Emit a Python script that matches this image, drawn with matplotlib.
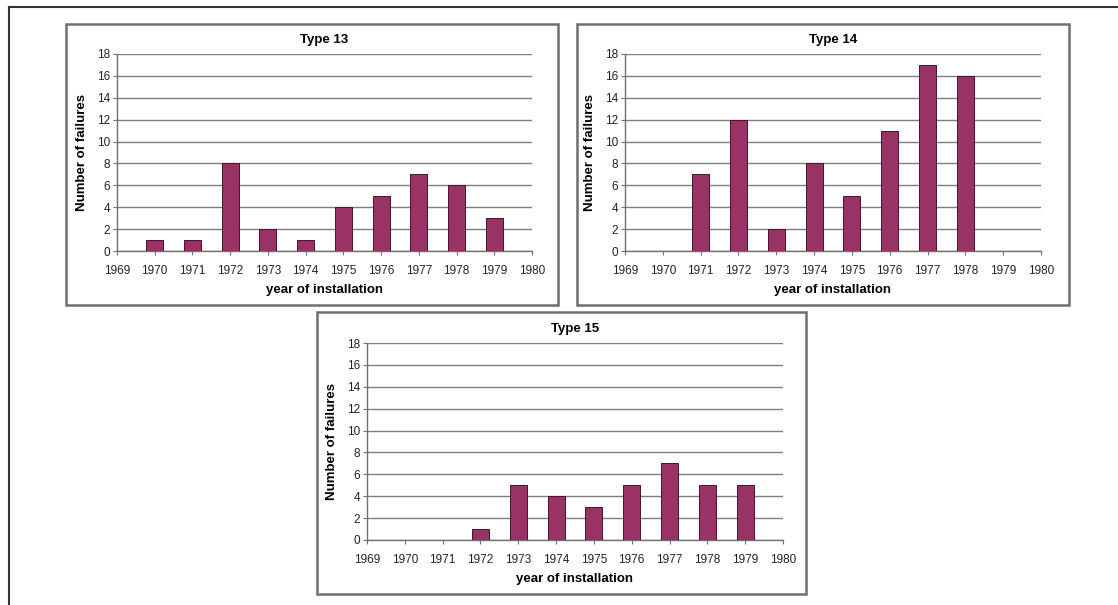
import matplotlib
matplotlib.use("Agg")
import matplotlib.pyplot as plt
from matplotlib.patches import Rectangle
from matplotlib.lines import Line2D

plt.rcParams['font.family'] = ['Liberation Sans', 'DejaVu Sans']

W, H = 1118, 605

# data
years13 = [1970, 1971, 1972, 1973, 1974, 1975, 1976, 1977, 1978, 1979]
fail13 = [1, 1, 8, 2, 1, 4, 5, 7, 6, 3]
years14 = [1971, 1972, 1973, 1974, 1975, 1976, 1977, 1978]
fail14 = [7, 12, 2, 8, 5, 11, 17, 16]
years15 = [1972, 1973, 1974, 1975, 1976, 1977, 1978, 1979]
fail15 = [1, 5, 4, 3, 5, 7, 5, 5]
titles = ["Type 13", "Type 14", "Type 15"]
xticks = list(range(1969, 1981))
yticks = list(range(0, 19, 2))

# pixel boxes: (panel frame, plot area) as left, top, right, bottom
panels = [
    ((66, 24, 558, 305), (117, 54, 532, 251)),
    ((577, 24, 1069, 305), (625, 54, 1041, 251)),
    ((317, 312, 806, 594), (367, 343, 783, 540)),
]

fig = plt.figure(figsize=(W / 100, H / 100), dpi=100)
fig.patch.set_facecolor('white')

# outer frame (top and left only)
fig.add_artist(Line2D([9 / W, 1], [1 - 7 / H, 1 - 7 / H], color='#333333', lw=1.5))
fig.add_artist(Line2D([9 / W, 9 / W], [0, 1 - 7 / H], color='#333333', lw=1.5))

def px_rect(l, t, r, b):
    return [l / W, 1 - b / H, (r - l) / W, (b - t) / H]

data = [(years13, fail13), (years14, fail14), (years15, fail15)]

for (frame, area), (yrs, vals), title in zip(panels, data, titles):
    l, t, r, b = frame
    fig.add_artist(Rectangle((l / W, 1 - b / H), (r - l) / W, (b - t) / H,
                             fill=False, edgecolor='#6e6e6e', lw=1.8))
    ax = fig.add_axes(px_rect(*area))
    ax.bar(yrs, vals, width=0.45, color='#993366', edgecolor='#4a1030', lw=0.7, zorder=3)
    ax.set_xlim(1969, 1980)
    ax.set_ylim(0, 18)
    ax.set_xticks(xticks)
    ax.set_yticks(yticks)
    ax.tick_params(axis='both', labelsize=8.5, length=3, color='#707070',
                   labelcolor='#222222', pad=2)
    ax.tick_params(axis='x', pad=7)
    ax.grid(axis='y', color='#7f7f7f', lw=1.0, zorder=0)
    for s in ['top', 'right']:
        ax.spines[s].set_visible(False)
    for s in ['left', 'bottom']:
        ax.spines[s].set_color('#707070')
        ax.spines[s].set_linewidth(1.0)
    ax.set_title(title, fontsize=9.5, fontweight='bold', pad=8)
    ax.set_xlabel('year of installation', fontsize=9.5, fontweight='bold', labelpad=5)
    ax.set_ylabel('Number of failures', fontsize=9.5, fontweight='bold', labelpad=6)

fig.savefig('out.png', dpi=100)
